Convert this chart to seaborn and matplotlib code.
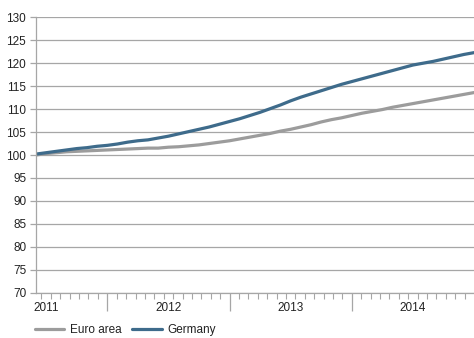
import pandas as pd
import numpy as np
import matplotlib
matplotlib.use("Agg")
import matplotlib.pyplot as plt
import matplotlib.transforms as mtransforms
import seaborn as sns

# Monthly index values (June 2011 = 100)
months = pd.date_range("2011-06-01", periods=44, freq="MS")
euro_area = [100.0, 100.3, 100.5, 100.7, 100.8, 100.9, 101.0, 101.1, 101.2, 101.3,
             101.4, 101.5, 101.5, 101.7, 101.8, 102.0, 102.2, 102.5, 102.8, 103.1,
             103.5, 103.9, 104.3, 104.7, 105.2, 105.6, 106.1, 106.6, 107.2, 107.7,
             108.1, 108.6, 109.1, 109.5, 109.9, 110.4, 110.8, 111.2, 111.6, 112.0,
             112.4, 112.8, 113.2, 113.6]
germany = [100.2, 100.5, 100.8, 101.1, 101.4, 101.6, 101.9, 102.1, 102.4, 102.8,
           103.1, 103.3, 103.7, 104.1, 104.6, 105.1, 105.6, 106.1, 106.7, 107.3,
           107.9, 108.6, 109.3, 110.1, 110.9, 111.8, 112.6, 113.3, 114.0, 114.7,
           115.4, 116.0, 116.6, 117.2, 117.8, 118.4, 119.0, 119.6, 120.0, 120.4,
           120.9, 121.4, 121.9, 122.3]
years = [2011, 2012, 2013, 2014]
colors = {"Euro area": "#9c9c9c", "Germany": "#3e6b8b"}

# fractional years for a numeric x axis
t = months.year + (months.month - 1) / 12.0
df = pd.concat([
    pd.DataFrame({"t": t, "value": euro_area, "series": "Euro area"}),
    pd.DataFrame({"t": t, "value": germany, "series": "Germany"}),
])

sns.set_style("white")
plt.rcParams["font.family"] = ["Liberation Sans", "DejaVu Sans"]
plt.rcParams["font.size"] = 8.5

fig = plt.figure(figsize=(4.74, 3.38), dpi=100)
ax = fig.add_axes([36 / 474, 1 - 292.7 / 338, 1 - 36 / 474, (292.7 - 17.3) / 338])

sns.lineplot(data=df, x="t", y="value", hue="series", palette=colors,
             linewidth=2.3, ax=ax, legend=False)

ax.set_xlim(t[0], 2015.0)
ax.set_ylim(70, 130)
ax.set_yticks(np.arange(70, 131, 5))
ax.yaxis.grid(True, color="#a6a6a6", linewidth=0.9)
ax.set_axisbelow(True)
ax.set_xlabel("")
ax.set_ylabel("")

for side in ["top", "right"]:
    ax.spines[side].set_visible(False)
for side in ["left", "bottom"]:
    ax.spines[side].set_color("#a6a6a6")
    ax.spines[side].set_linewidth(0.9)

ax.tick_params(axis="y", left=True, length=4, width=0.9, color="#a6a6a6", pad=3,
               labelcolor="#222222")

# year separators (major) and ~4-weekly minor ticks
ax.set_xticks(years[1:])
ax.set_xticklabels([])
minor = [y + k / 13.0 for y in years for k in range(1, 13)]
minor = [m for m in minor if m > t[0]]
ax.set_xticks(minor, minor=True)
ax.tick_params(axis="x", which="major", bottom=True, length=13, width=0.9,
               color="#a6a6a6", direction="out")
ax.tick_params(axis="x", which="minor", bottom=True, length=4, width=0.8,
               color="#a6a6a6", direction="out")

trans = mtransforms.blended_transform_factory(ax.transData, ax.transAxes)
for y in years:
    ax.text(y + 0.5, -0.035, str(y), transform=trans, ha="center", va="top",
            color="#222222", clip_on=False)

handles = [plt.Line2D([], [], color=colors[s], linewidth=2.3) for s in colors]
fig.legend(handles, list(colors), loc="center left", bbox_to_anchor=(30 / 474, 1 - 330 / 338),
           ncol=2, frameon=False, handlelength=2.5, handletextpad=0.5, columnspacing=0.9,
           borderaxespad=0, labelcolor="#222222")

fig.savefig("out.png", dpi=100)
